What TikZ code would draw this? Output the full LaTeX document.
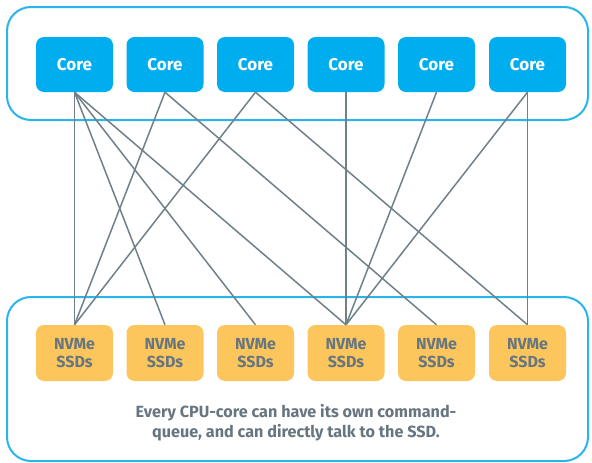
\documentclass[tikz,border=0pt]{standalone}
\usepackage{fontspec}
\setmainfont{Fira Sans}
\definecolor{cyanbox}{HTML}{00AEEF}
\definecolor{frame}{HTML}{29B5EC}
\definecolor{ssdfill}{HTML}{FCC65C}
\definecolor{ink}{HTML}{66757F}
\definecolor{wire}{HTML}{708089}
\begin{document}
\begin{tikzpicture}[x=1pt,y=-1pt,
  panel/.style={draw=frame,line width=2pt,rounded corners=24pt},
  corebox/.style={fill=cyanbox,rounded corners=8pt,minimum width=77pt,minimum height=55pt,inner sep=0pt,text=white,font=\bfseries\fontsize{17}{19}\selectfont},
  ssdbox/.style={fill=ssdfill,rounded corners=8pt,minimum width=77pt,minimum height=56pt,inner sep=0pt,text=ink,align=center,font=\bfseries\fontsize{16}{18}\selectfont},
  link/.style={draw=wire,line width=1.5pt}]
\useasboundingbox (0,0) rectangle (592,463);
\draw[panel] (7,7) rectangle (588,120);
\draw[panel] (7,297) rectangle (588,461);
\foreach \i/\x in {1/74.5,2/165,3/255.5,4/346,5/436.5,6/527.5}{
  \node[corebox] (c\i) at (\x,64.5) {Core};
  \node[ssdbox] (s\i) at (\x,353) {NVMe\\SSDs};
}
\foreach \a/\b in {1/1,1/2,1/3,1/4,2/1,2/5,3/1,3/6,4/4,5/4,6/4,6/6}{
  \draw[link] (c\a.south) -- (s\b.north);
}
\node[text=ink,align=center,font=\bfseries\fontsize{16.2}{20}\selectfont] (cap) at (296,423) {Every CPU-core can have its own command-\\queue, and can directly talk to the SSD.};
\end{tikzpicture}
\end{document}
